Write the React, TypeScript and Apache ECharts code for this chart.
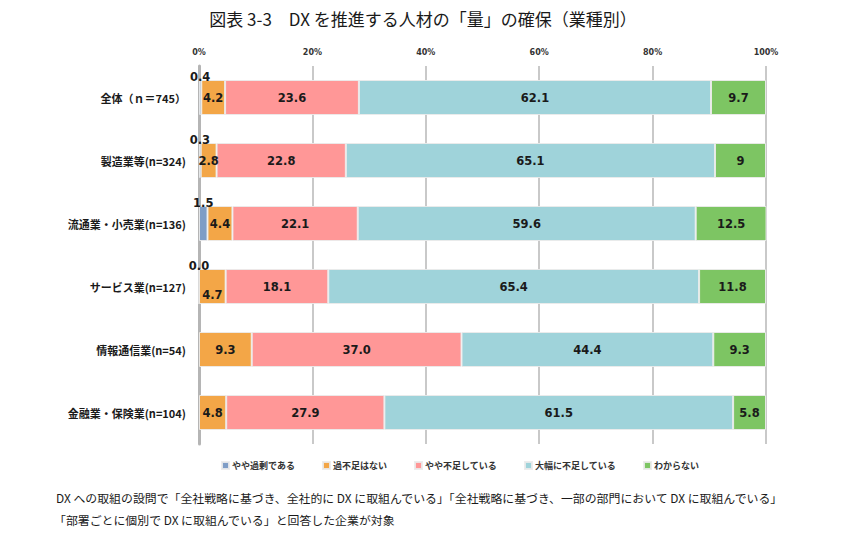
import React, { useEffect, useRef } from "react";
import * as echarts from "echarts";

// Industry groups (rows, top to bottom)
const categories = [
  "全体（ｎ＝745）",
  "製造業等(n=324)",
  "流通業・小売業(n=136)",
  "サービス業(n=127)",
  "情報通信業(n=54)",
  "金融業・保険業(n=104)",
];

const seriesNames = [
  "やや過剰である",
  "過不足はない",
  "やや不足している",
  "大幅に不足している",
  "わからない",
];

// Shares in %, kept as printed (empty = no answer shown)
const slightlyExcess = ["0.4", "0.3", "1.5", "0.0", "", ""];
const adequate = ["4.2", "2.8", "4.4", "4.7", "9.3", "4.8"];
const slightlyShort = ["23.6", "22.8", "22.1", "18.1", "37.0", "27.9"];
const greatlyShort = ["62.1", "65.1", "59.6", "65.4", "44.4", "61.5"];
const unknown = ["9.7", "9", "12.5", "11.8", "9.3", "5.8"];

const xTicks = [0, 20, 40, 60, 80, 100];

const colors = ["#7f9dc6", "#f3a647", "#ff9797", "#9fd3da", "#7dc563"];

const title = "図表 3-3　DX を推進する人材の「量」の確保（業種別）";
const note1 =
  "DX への取組の設問で「全社戦略に基づき、全社的に DX に取組んでいる」「全社戦略に基づき、一部の部門において DX に取組んでいる」";
const note2 = "「部署ごとに個別で DX に取組んでいる」と回答した企業が対象";

const FONT_JP = '"Noto Sans CJK JP", "Noto Sans", sans-serif';
const FONT_NUM = '"DejaVu Sans", Verdana, sans-serif';

export default function App() {
  const ref = useRef<HTMLDivElement>(null);

  useEffect(() => {
    if (!ref.current) return;
    const chart = echarts.init(ref.current, null, { renderer: "svg" });

    const columns = [slightlyExcess, adequate, slightlyShort, greatlyShort, unknown];

    const series = columns.map((col, si) => ({
      name: seriesNames[si],
      type: "bar",
      stack: "total",
      barWidth: 35,
      itemStyle: {
        color: colors[si],
        borderColor: "rgba(235,235,235,0.9)",
        borderWidth: 1,
      },
      data: col.map((s, di) => {
        if (s === "") return null;
        const item: any = { value: Number(s) };
        // the 4.7 label sits lower where the 0.0 label crowds it
        if (si === 1 && slightlyExcess[di] === "0.0") {
          item.label = { offset: [0, 8] };
        }
        return item;
      }),
      label: {
        show: true,
        position: si === 0 ? "top" : "inside",
        distance: si === 0 ? -3 : 5,
        color: "#1a1a1a",
        fontFamily: FONT_NUM,
        fontWeight: "bold",
        fontSize: 11.5,
        formatter: (p: any) => col[p.dataIndex],
      },
      emphasis: { disabled: true },
    }));

    chart.setOption({
      animation: false,
      color: colors,
      title: {
        text: title,
        left: 423,
        top: 10,
        padding: 0,
        textAlign: "center",
        textStyle: {
          fontFamily: FONT_JP,
          fontSize: 17,
          fontWeight: "normal",
          color: "#1a1a1a",
        },
      },
      legend: {
        data: seriesNames,
        left: 221,
        top: 461,
        padding: 0,
        itemWidth: 7,
        itemHeight: 7,
        itemGap: 27,
        icon: "rect",
        textStyle: {
          fontFamily: FONT_JP,
          fontSize: 9,
          fontWeight: "bold",
          color: "#333",
          padding: [0, 0, 0, -2],
        },
      },
      grid: { left: 199, right: 75, top: 66, bottom: 106, containLabel: false },
      xAxis: {
        type: "value",
        position: "top",
        min: xTicks[0],
        max: xTicks[xTicks.length - 1],
        interval: 20,
        axisLine: { show: false },
        axisTick: { show: false },
        axisLabel: {
          formatter: (v: number) => (xTicks.includes(v) ? `${v}%` : ""),
          fontFamily: FONT_NUM,
          fontSize: 8,
          fontWeight: "bold",
          color: "#333",
          margin: 10,
        },
        splitLine: { lineStyle: { color: "#c9c9c9", width: 2 } },
      },
      yAxis: {
        type: "category",
        inverse: true,
        data: categories,
        axisLine: { lineStyle: { color: "#b5b5b5", width: 3 } },
        axisTick: { show: false },
        axisLabel: {
          fontFamily: FONT_JP,
          fontSize: 11,
          fontWeight: "bold",
          color: "#1a1a1a",
          margin: 13,
        },
      },
      graphic: [
        {
          type: "text",
          left: 56,
          top: 492,
          style: {
            text: note1,
            font: `11.9px ${FONT_JP}`,
            fill: "#1a1a1a",
          },
        },
        {
          type: "text",
          left: 54,
          top: 514,
          style: {
            text: note2,
            font: `11.9px ${FONT_JP}`,
            fill: "#1a1a1a",
          },
        },
      ],
      series,
    });

    return () => chart.dispose();
  }, []);

  return (
    <div
      ref={ref}
      style={{ position: "absolute", left: 0, top: 0, width: 841, height: 550 }}
    />
  );
}
